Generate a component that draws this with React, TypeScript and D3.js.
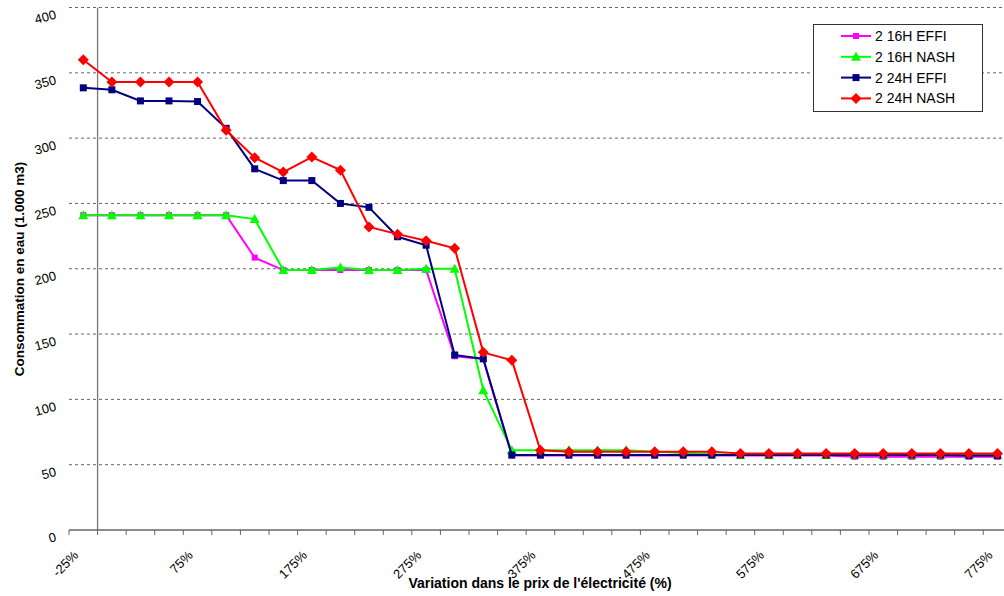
import React from 'react';
import * as d3 from 'd3';

const categories = ['-25%','0%','25%','50%','75%','100%','125%','150%','175%','200%','225%','250%','275%','300%','325%','350%','375%','400%','425%','450%','475%','500%','525%','550%','575%','600%','625%','650%','675%','700%','725%','750%','775%'];

const effi16 = [241,241,241,241,241,241,208.5,199,199,199,199,199,199,133,131,57,57,57,57,57,57,57,57,57,57,57,57,56,56,56,56,56,56];
const nash16 = [241,241,241,241,241,241,238,199,199,201,199,199,200,200,107,61,61,61,61,61,60,59,58,57.5,57.5,57.5,57.5,57.5,57.5,57.5,57.5,57.5,57.5];
const effi24 = [338.5,337,328.5,328.5,328,307.5,276.5,267.5,267.5,250,247,224.5,218,134,131,57.4,57.4,57.4,57.4,57.4,57.4,57.4,57.4,57.4,57.4,57.4,57.4,57.4,57.4,57.4,57.4,57,57];
const nash24 = [360,343,343,343,343,306,285,274,285.5,275.5,232,226.5,221.5,215.7,136,130,61,60,60,60,60,60,60,58.5,58.5,58.5,58.5,58.5,58.5,58.5,58.5,58.5,58.5];

const yTicks = [0,50,100,150,200,250,300,350,400];
const xLabelEvery = 4;

const seriesNames = ['2 16H EFFI','2 16H NASH','2 24H EFFI','2 24H NASH'];
const seriesColors = ['#FF00FF','#00FF00','#000080','#FF0000'];
const seriesMarkers = ['square','triangle','squareBig','diamond'];
const seriesData = [effi16, nash16, effi24, nash24];

function Marker({ kind, x, y, color }: { kind: string; x: number; y: number; color: string }) {
  if (kind === 'square') return <rect x={x - 3} y={y - 3} width={6} height={6} fill={color} />;
  if (kind === 'squareBig') return <rect x={x - 3.5} y={y - 3.5} width={7} height={7} fill={color} />;
  if (kind === 'triangle') return <path d={`M${x},${y - 5}L${x + 5},${y + 4}L${x - 5},${y + 4}Z`} fill={color} />;
  return <path d={`M${x},${y - 5.5}L${x + 5.5},${y}L${x},${y + 5.5}L${x - 5.5},${y}Z`} fill={color} />;
}

export default function App() {
  const W = 1004, H = 596;
  const left = 69, step = 28.57;
  const x = d3.scaleBand<string>().domain(categories).range([left, left + step * categories.length]);
  const y = d3.scaleLinear().domain([0, 400]).range([530, 7.5]);
  const cx = (c: string) => (x(c) as number) + x.bandwidth() / 2;
  const line = d3.line<number>().x((_, i) => cx(categories[i])).y(d => y(d));
  const font = "'Liberation Sans', Arial, sans-serif";

  const boundaries = d3.range(categories.length + 1).map(i => left + i * x.bandwidth());

  return (
    <svg width={W} height={H} style={{ position: 'absolute', left: 0, top: 0, background: '#fff' }} fontFamily={font}>
      <rect x={0} y={0} width={W} height={H} fill="#fff" />
      {yTicks.filter(t => t > 0).map(t => (
        <line key={t} x1={left} x2={W} y1={y(t)} y2={y(t)} stroke="#666" strokeDasharray="3,3" strokeWidth={1} />
      ))}
      <line x1={left + x.bandwidth()} x2={left + x.bandwidth()} y1={y(400)} y2={y(0)} stroke="#777" strokeWidth={1.3} />
      <line x1={left} x2={W} y1={y(0)} y2={y(0)} stroke="#666" strokeWidth={1.3} />
      {boundaries.map((b, i) => (
        <line key={i} x1={b} x2={b} y1={y(0)} y2={y(0) + 5} stroke="#666" strokeWidth={1} />
      ))}
      {yTicks.map(t => (
        <text key={t} transform={`translate(57,${y(t) + 11}) rotate(-15)`} textAnchor="end" fontSize={13} fill="#000">{t}</text>
      ))}
      {categories.map((c, i) => i % xLabelEvery === 0 ? (
        <text key={c} transform={`translate(${cx(c) - 4},556) rotate(-45)`} textAnchor="end" fontSize={13} fill="#000">{c}</text>
      ) : null)}
      <text transform="translate(24,269) rotate(-90)" textAnchor="middle" fontSize={13.5} fontWeight="bold" fill="#000">Consommation en eau (1.000 m3)</text>
      <text x={540} y={588} textAnchor="middle" fontSize={14} fontWeight="bold">Variation dans le prix de l'électricité (%)</text>
      {seriesData.map((d, s) => (
        <g key={s}>
          <path d={line(d) as string} fill="none" stroke={seriesColors[s]} strokeWidth={2} />
          {d.map((v, i) => <Marker key={i} kind={seriesMarkers[s]} x={cx(categories[i])} y={y(v)} color={seriesColors[s]} />)}
        </g>
      ))}
      <g>
        <rect x={813.5} y={24.5} width={169} height={87} fill="#fff" stroke="#333" strokeWidth={1} />
        {seriesNames.map((n, s) => {
          const ly = 36 + s * 20.8;
          return (
            <g key={n}>
              <line x1={841} x2={871} y1={ly} y2={ly} stroke={seriesColors[s]} strokeWidth={2} />
              <Marker kind={seriesMarkers[s]} x={856} y={ly} color={seriesColors[s]} />
              <text x={875} y={ly + 5} fontSize={14} fill="#000">{n}</text>
            </g>
          );
        })}
      </g>
    </svg>
  );
}
